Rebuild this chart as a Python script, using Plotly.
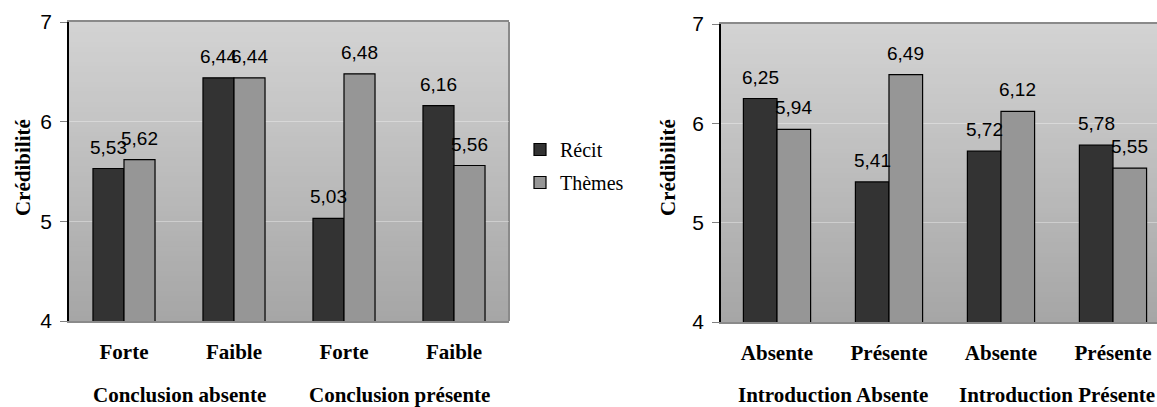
import plotly.graph_objects as go

series = ['Récit', 'Thèmes']
bar_colors = ['#333333', '#969696']

left_ticks = ['Forte', 'Faible', 'Forte', 'Faible']
left_groups = ['Conclusion absente', 'Conclusion présente']
left_recit = [5.53, 6.44, 5.03, 6.16]
left_themes = [5.62, 6.44, 6.48, 5.56]

right_ticks = ['Absente', 'Présente', 'Absente', 'Présente']
right_groups = ['Introduction Absente', 'Introduction Présente']
right_recit = [6.25, 5.41, 5.72, 5.78]
right_themes = [5.94, 6.49, 6.12, 5.55]

y_ticks = [4, 5, 6, 7]

W, H = 1157, 407
SANS = 'Liberation Sans, Arial, sans-serif'
SERIF = 'Liberation Serif, Times New Roman, serif'


def fmt(v):
    return f'{v:.2f}'.replace('.', ',')


fig = go.Figure()
annotations = []
shapes = []

panels = [
    ('x', 'y', left_ticks, left_groups, [left_recit, left_themes], 0.282, True),
    ('x2', 'y2', right_ticks, right_groups, [right_recit, right_themes], 0.30, False),
]

for xa, ya, ticks, groups, values, w, show in panels:
    xs = list(range(len(ticks)))
    for i, (name, vals) in enumerate(zip(series, values)):
        off = -w if i == 0 else 0
        fig.add_trace(go.Bar(
            name=name, x=xs, y=vals, xaxis=xa, yaxis=ya,
            width=w, offset=off, base=0,
            marker=dict(color=bar_colors[i], line=dict(color='black', width=1.2)),
            showlegend=show, legendgroup=name,
        ))
        for x, v in zip(xs, vals):
            annotations.append(dict(
                x=x + off + w / 2, y=v, xref=xa, yref=ya, text=fmt(v),
                showarrow=False, xanchor='center', yanchor='bottom', yshift=9,
                font=dict(family=SANS, size=19, color='black')))
    for g, name in enumerate(groups):
        annotations.append(dict(
            x=2 * g + 0.5, y=1 - 395 / H, xref=xa, yref='paper', text=name,
            showarrow=False, xanchor='center', yanchor='middle',
            font=dict(family=SERIF, size=21, color='black', weight='bold')))
    # gradient background, bands overlap a little to avoid seams
    n = 60
    for k in range(n):
        t = k / (n - 1)
        c = round(0xa6 + (0xd3 - 0xa6) * t)
        shapes.append(dict(
            type='rect', xref=f'{xa} domain', yref=f'{ya} domain',
            x0=0, x1=1, y0=k / n, y1=min(1, (k + 1.6) / n),
            fillcolor=f'rgb({c},{c},{c})', line=dict(width=0), layer='below'))

# right border of left panel
shapes.append(dict(type='line', xref='x domain', yref='y domain',
                   x0=1, x1=1, y0=0, y1=1, line=dict(color='#8a8a8a', width=2), layer='below'))

# y titles
for xp in (23, 668):
    annotations.append(dict(
        x=xp / W, y=1 - 168 / H, xref='paper', yref='paper', text='Crédibilité',
        textangle=-90, showarrow=False, xanchor='center', yanchor='middle',
        font=dict(family=SERIF, size=21, color='black', weight='bold')))

xaxis_common = dict(
    tickmode='array', tickvals=[0, 1, 2, 3], showgrid=False, zeroline=False,
    showline=True, mirror=True, linecolor='#8a8a8a', linewidth=2, ticks='',
    automargin=False,
    ticklabelstandoff=11, tickfont=dict(family=SERIF, size=21, color='black', weight='bold'),
)
yaxis_common = dict(
    range=[4, 7], tickvals=y_ticks, showgrid=True, gridcolor='rgba(255,255,255,0.35)',
    zeroline=False, showline=True, linecolor='black', linewidth=1.5,
    ticks='outside', ticklen=7, tickcolor='#808080', ticklabelstandoff=4,
    automargin=False,
    tickfont=dict(family=SANS, size=21, color='black'),
)

fig.update_layout(
    width=W, height=H,
    margin=dict(l=0, r=0, t=0, b=0, autoexpand=False),
    paper_bgcolor='white', plot_bgcolor='rgba(0,0,0,0)',
    barmode='overlay',
    xaxis=dict(domain=[69 / W, 509 / W], range=[-0.5, 3.5], ticktext=left_ticks, anchor='y', **xaxis_common),
    yaxis=dict(domain=[1 - 321 / H, 1 - 22 / H], anchor='x', **yaxis_common),
    xaxis2=dict(domain=[721 / W, 1], range=[-0.5, 3.393], ticktext=right_ticks, anchor='y2', **xaxis_common),
    yaxis2=dict(domain=[1 - 322 / H, 1 - 24 / H], anchor='x2', **yaxis_common),
    legend=dict(x=520 / W, y=1 - 130 / H, xanchor='left', yanchor='top',
                bgcolor='rgba(0,0,0,0)', font=dict(family=SERIF, size=20, color='black'),
                tracegroupgap=4),
    annotations=annotations,
    shapes=shapes,
)

# the page's default body margin would shift the figure by 8px
fig.write_html('out.html', config={'displayModeBar': False},
               post_script="document.body.style.margin='0';")
